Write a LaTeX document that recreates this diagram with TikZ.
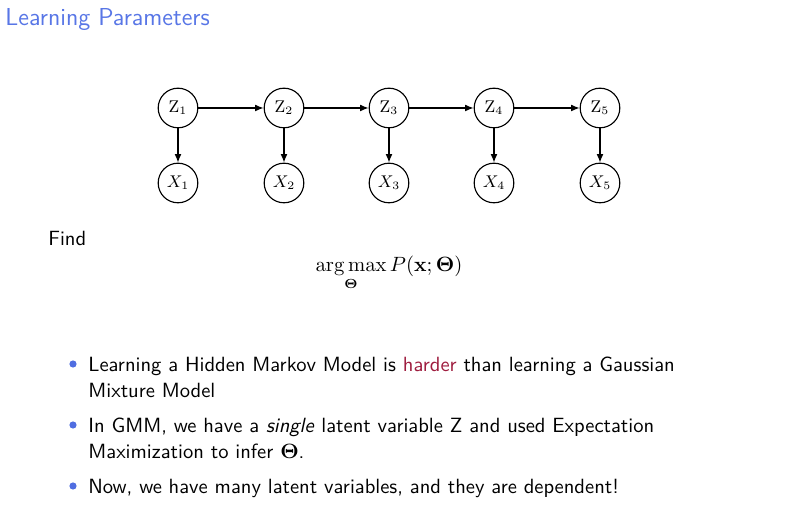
\documentclass[tikz,border=0pt]{standalone}
\usepackage{amsmath,amssymb,bm}
\usetikzlibrary{arrows.meta}
\definecolor{titleblue}{RGB}{88,118,230}
\definecolor{alertred}{RGB}{158,28,62}
\definecolor{ballblue}{RGB}{80,110,225}
\begin{document}
\begin{tikzpicture}[x=0.53pt,y=-0.53pt,
  var/.style={circle,draw,line width=0.6pt,minimum size=21pt,inner sep=0pt,font=\fontsize{8.8}{10}\selectfont},
  edge/.style={-{Latex[length=4.5pt,width=3.6pt]},line width=0.6pt},
  body/.style={anchor=base west,inner sep=0pt,font=\sffamily\fontsize{10.9}{13}\selectfont},
  ball/.style={circle,fill=ballblue,inner sep=0pt,minimum size=3.8pt}]
\useasboundingbox (0,0) rectangle (788,518);
\node[anchor=base west,inner sep=0pt,text=titleblue,font=\sffamily\fontsize{13}{15}\selectfont] (title) at (5,26) {Learning Parameters};
% graph
\foreach \i/\x in {1/178,2/284,3/389,4/494,5/600}{
  \node[var] (z\i) at (\x,108) {$\mathrm{Z}_{\i}$};
  \node[var] (x\i) at (\x,183) {$X_{\i}$};
  \draw[edge] (z\i) -- (x\i);
}
\foreach \a/\b in {1/2,2/3,3/4,4/5}{\draw[edge] (z\a) -- (z\b);}
\node[body] (find) at (48,246) {Find};
\node[anchor=base,inner sep=0pt,font=\fontsize{10.6}{12}\selectfont] (eq) at (389,272) {$\displaystyle \operatorname*{arg\,max}_{\boldsymbol{\Theta}} P(\mathbf{x};\boldsymbol{\Theta})$};
% bullets
\node[ball] (b1) at (73,364) {};
\node[ball] (b2) at (73,425) {};
\node[ball] (b3) at (73,486) {};
\node[body] (t1) at (88,372) {Learning a Hidden Markov Model is \textcolor{alertred}{harder} than learning a Gaussian};
\node[body] (t1b) at (88,398) {Mixture Model};
\node[body] (t2) at (88,433) {In GMM, we have a \textit{single} latent variable Z and used Expectation};
\node[body] (t2b) at (88,459) {Maximization to infer $\boldsymbol{\Theta}$.};
\node[body] (t3) at (88,494) {Now, we have many latent variables, and they are dependent!};
\end{tikzpicture}
\end{document}
